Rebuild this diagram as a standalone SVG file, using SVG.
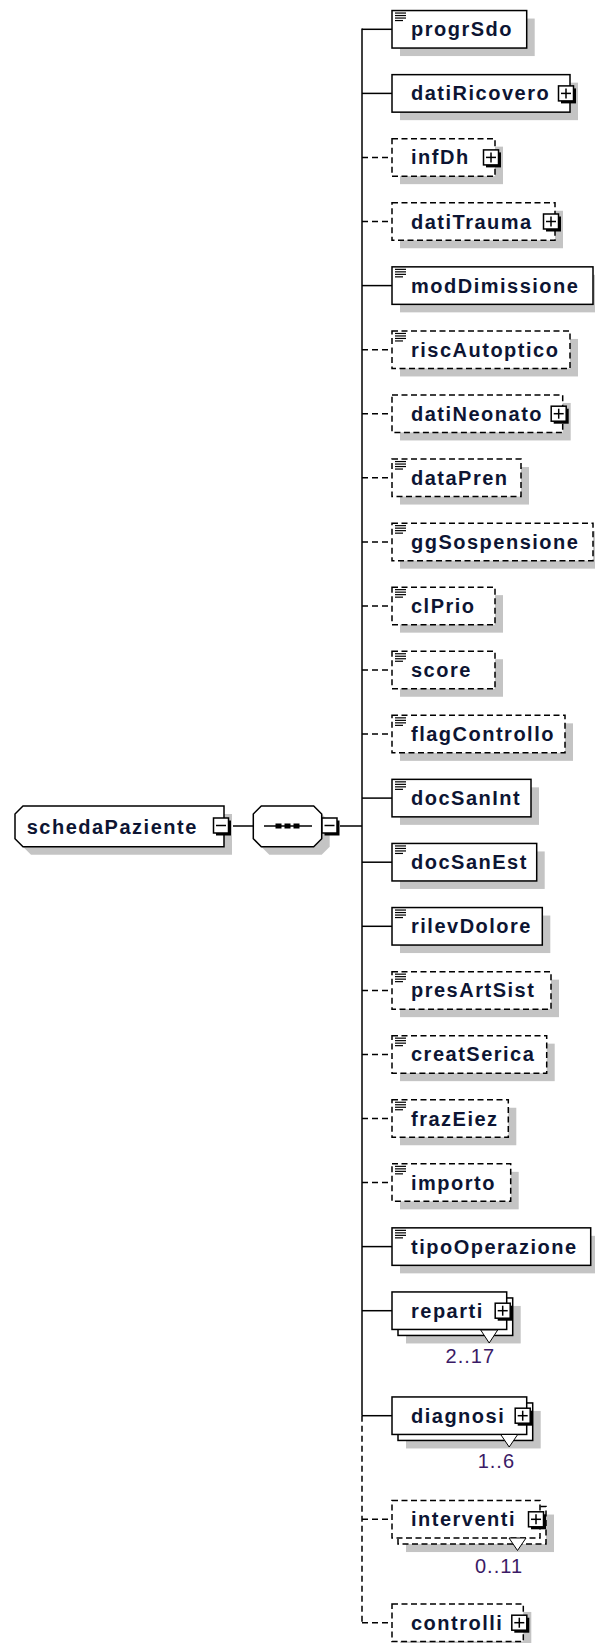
<svg xmlns="http://www.w3.org/2000/svg" xmlns:xlink="http://www.w3.org/1999/xlink" width="595" height="1643" viewBox="0 0 595 1643">
<style>
.box{fill:#fff;stroke:#000;stroke-width:1.5}
.opt{stroke-dasharray:6 3.5}
.sh{fill:#c4c4c4}
.nm{font-family:"Liberation Sans",Arial,sans-serif;font-weight:bold;font-size:20px;letter-spacing:1.5px;fill:#0d1533}
.mul{font-family:"Liberation Sans",Arial,sans-serif;font-size:20px;letter-spacing:1px;fill:#3b1a66}
.ln{stroke:#000;stroke-width:1.5;fill:none}
.dl{stroke-dasharray:6 4}
.ic{stroke:#000;stroke-width:1.2}
.tri{fill:#fff;stroke:#000;stroke-width:1}
</style>
<defs>
<g id="ico"><line class="ic" x1="3" y1="2.5" x2="14" y2="2.5"/><line class="ic" x1="3" y1="5" x2="14" y2="5"/><line class="ic" x1="3" y1="7.5" x2="14" y2="7.5"/><line class="ic" x1="3" y1="10" x2="11" y2="10"/></g>
<g id="plus"><rect x="-5" y="-5" width="15" height="15" fill="#000"/><rect x="-7.5" y="-7.5" width="15" height="15" fill="#fff" stroke="#000" stroke-width="1.5"/><line x1="-5" y1="0" x2="5" y2="0" stroke="#000" stroke-width="1.5"/><line x1="0" y1="-5" x2="0" y2="5" stroke="#000" stroke-width="1.5"/></g>
<g id="minus"><rect x="-5" y="-5" width="15" height="15" fill="#000"/><rect x="-7.5" y="-7.5" width="15" height="15" fill="#fff" stroke="#000" stroke-width="1.5"/><line x1="-5" y1="0" x2="5" y2="0" stroke="#000" stroke-width="1.5"/></g>
</defs>

<g id="connectors">
<line class="ln" x1="233" y1="826" x2="253" y2="826"/>
<line class="ln" x1="340" y1="826" x2="362" y2="826"/>
<line class="ln" x1="362" y1="28.6" x2="362" y2="1415.7" stroke-width="2.2"/>
<line class="ln dl" x1="362" y1="1415.7" x2="362" y2="1622.7" stroke-width="2"/>
<line class="ln" x1="362" y1="29.3" x2="392" y2="29.3"/>
<line class="ln" x1="362" y1="93.4" x2="392" y2="93.4"/>
<line class="ln dl" x1="362" y1="157.4" x2="392" y2="157.4"/>
<line class="ln dl" x1="362" y1="221.5" x2="392" y2="221.5"/>
<line class="ln" x1="362" y1="285.6" x2="392" y2="285.6"/>
<line class="ln dl" x1="362" y1="349.7" x2="392" y2="349.7"/>
<line class="ln dl" x1="362" y1="413.7" x2="392" y2="413.7"/>
<line class="ln dl" x1="362" y1="477.8" x2="392" y2="477.8"/>
<line class="ln dl" x1="362" y1="541.9" x2="392" y2="541.9"/>
<line class="ln dl" x1="362" y1="605.9" x2="392" y2="605.9"/>
<line class="ln dl" x1="362" y1="670" x2="392" y2="670"/>
<line class="ln dl" x1="362" y1="734.1" x2="392" y2="734.1"/>
<line class="ln" x1="362" y1="798.1" x2="392" y2="798.1"/>
<line class="ln" x1="362" y1="862.2" x2="392" y2="862.2"/>
<line class="ln" x1="362" y1="926.3" x2="392" y2="926.3"/>
<line class="ln dl" x1="362" y1="990.4" x2="392" y2="990.4"/>
<line class="ln dl" x1="362" y1="1054.4" x2="392" y2="1054.4"/>
<line class="ln dl" x1="362" y1="1118.5" x2="392" y2="1118.5"/>
<line class="ln dl" x1="362" y1="1182.6" x2="392" y2="1182.6"/>
<line class="ln" x1="362" y1="1246.6" x2="392" y2="1246.6"/>
<line class="ln" x1="362" y1="1310.7" x2="392" y2="1310.7"/>
<line class="ln" x1="362" y1="1415.7" x2="392" y2="1415.7"/>
<line class="ln dl" x1="362" y1="1519.3" x2="392" y2="1519.3"/>
<line class="ln dl" x1="362" y1="1622.7" x2="392" y2="1622.7"/>
</g>

<g id="schedaPaziente">
<polygon class="sh" points="31,814 232,814 232,854.7 31,854.7 23,846.7 23,822"/>
<polygon class="box" points="23,806 224,806 224,846.7 23,846.7 15,838.7 15,814"/>
<text class="nm" x="26.7" y="833.5">schedaPaziente</text>
<use xlink:href="#minus" x="221" y="825.5"/>
</g>

<g id="sequence">
<polygon class="sh" points="269.3,814 321.7,814 329.7,822 329.7,846.7 321.7,854.7 269.3,854.7 261.3,846.7 261.3,822"/>
<polygon class="box" points="261.3,806 313.7,806 321.7,814 321.7,838.7 313.7,846.7 261.3,846.7 253.3,838.7 253.3,814"/>
<line class="ln" x1="264" y1="826" x2="312" y2="826"/>
<rect x="275.5" y="823.5" width="6" height="5" fill="#000"/>
<rect x="284.5" y="823.5" width="6" height="5" fill="#000"/>
<rect x="293.5" y="823.5" width="6" height="5" fill="#000"/>
<use xlink:href="#minus" x="329.5" y="825.5"/>
</g>

<g id="progrSdo">
<rect class="sh" x="400" y="18.55" width="134.7" height="37.5"/>
<rect class="box" x="392" y="10.55" width="134.7" height="37.5"/>
<use xlink:href="#ico" x="392" y="10.55"/>
<text class="nm" x="411" y="36.3">progrSdo</text>
</g>

<g id="datiRicovero">
<rect class="sh" x="400" y="82.65" width="178" height="37.5"/>
<rect class="box" x="392" y="74.65" width="178" height="37.5"/>
<text class="nm" x="411" y="100.4">datiRicovero</text>
<use xlink:href="#plus" x="566" y="93.4"/>
</g>

<g id="infDh">
<rect class="sh" x="400" y="146.65" width="103" height="37.5"/>
<rect class="box opt" x="392" y="138.65" width="103" height="37.5"/>
<text class="nm" x="411" y="164.4">infDh</text>
<use xlink:href="#plus" x="491" y="157.4"/>
</g>

<g id="datiTrauma">
<rect class="sh" x="400" y="210.75" width="163" height="37.5"/>
<rect class="box opt" x="392" y="202.75" width="163" height="37.5"/>
<text class="nm" x="411" y="228.5">datiTrauma</text>
<use xlink:href="#plus" x="551" y="221.5"/>
</g>

<g id="modDimissione">
<rect class="sh" x="400" y="274.85" width="201" height="37.5"/>
<rect class="box" x="392" y="266.85" width="201" height="37.5"/>
<use xlink:href="#ico" x="392" y="266.85"/>
<text class="nm" x="411" y="292.6">modDimissione</text>
</g>

<g id="riscAutoptico">
<rect class="sh" x="400" y="338.95" width="178" height="37.5"/>
<rect class="box opt" x="392" y="330.95" width="178" height="37.5"/>
<use xlink:href="#ico" x="392" y="330.95"/>
<text class="nm" x="411" y="356.7">riscAutoptico</text>
</g>

<g id="datiNeonato">
<rect class="sh" x="400" y="402.95" width="170.7" height="37.5"/>
<rect class="box opt" x="392" y="394.95" width="170.7" height="37.5"/>
<text class="nm" x="411" y="420.7">datiNeonato</text>
<use xlink:href="#plus" x="558.7" y="413.7"/>
</g>

<g id="dataPren">
<rect class="sh" x="400" y="467.05" width="129" height="37.5"/>
<rect class="box opt" x="392" y="459.05" width="129" height="37.5"/>
<use xlink:href="#ico" x="392" y="459.05"/>
<text class="nm" x="411" y="484.8">dataPren</text>
</g>

<g id="ggSospensione">
<rect class="sh" x="400" y="531.15" width="201" height="37.5"/>
<rect class="box opt" x="392" y="523.15" width="201" height="37.5"/>
<use xlink:href="#ico" x="392" y="523.15"/>
<text class="nm" x="411" y="548.9">ggSospensione</text>
</g>

<g id="clPrio">
<rect class="sh" x="400" y="595.15" width="103" height="37.5"/>
<rect class="box opt" x="392" y="587.15" width="103" height="37.5"/>
<use xlink:href="#ico" x="392" y="587.15"/>
<text class="nm" x="411" y="612.9">clPrio</text>
</g>

<g id="score">
<rect class="sh" x="400" y="659.25" width="103" height="37.5"/>
<rect class="box opt" x="392" y="651.25" width="103" height="37.5"/>
<use xlink:href="#ico" x="392" y="651.25"/>
<text class="nm" x="411" y="677">score</text>
</g>

<g id="flagControllo">
<rect class="sh" x="400" y="723.35" width="173" height="37.5"/>
<rect class="box opt" x="392" y="715.35" width="173" height="37.5"/>
<use xlink:href="#ico" x="392" y="715.35"/>
<text class="nm" x="411" y="741.1">flagControllo</text>
</g>

<g id="docSanInt">
<rect class="sh" x="400" y="787.35" width="139" height="37.5"/>
<rect class="box" x="392" y="779.35" width="139" height="37.5"/>
<use xlink:href="#ico" x="392" y="779.35"/>
<text class="nm" x="411" y="805.1">docSanInt</text>
</g>

<g id="docSanEst">
<rect class="sh" x="400" y="851.45" width="144.7" height="37.5"/>
<rect class="box" x="392" y="843.45" width="144.7" height="37.5"/>
<use xlink:href="#ico" x="392" y="843.45"/>
<text class="nm" x="411" y="869.2">docSanEst</text>
</g>

<g id="rilevDolore">
<rect class="sh" x="400" y="915.55" width="150.3" height="37.5"/>
<rect class="box" x="392" y="907.55" width="150.3" height="37.5"/>
<use xlink:href="#ico" x="392" y="907.55"/>
<text class="nm" x="411" y="933.3">rilevDolore</text>
</g>

<g id="presArtSist">
<rect class="sh" x="400" y="979.65" width="159" height="37.5"/>
<rect class="box opt" x="392" y="971.65" width="159" height="37.5"/>
<use xlink:href="#ico" x="392" y="971.65"/>
<text class="nm" x="411" y="997.4">presArtSist</text>
</g>

<g id="creatSerica">
<rect class="sh" x="400" y="1043.65" width="154.7" height="37.5"/>
<rect class="box opt" x="392" y="1035.65" width="154.7" height="37.5"/>
<use xlink:href="#ico" x="392" y="1035.65"/>
<text class="nm" x="411" y="1061.4">creatSerica</text>
</g>

<g id="frazEiez">
<rect class="sh" x="400" y="1107.75" width="116.3" height="37.5"/>
<rect class="box opt" x="392" y="1099.75" width="116.3" height="37.5"/>
<use xlink:href="#ico" x="392" y="1099.75"/>
<text class="nm" x="411" y="1125.5">frazEiez</text>
</g>

<g id="importo">
<rect class="sh" x="400" y="1171.85" width="118.7" height="37.5"/>
<rect class="box opt" x="392" y="1163.85" width="118.7" height="37.5"/>
<use xlink:href="#ico" x="392" y="1163.85"/>
<text class="nm" x="411" y="1189.6">importo</text>
</g>

<g id="tipoOperazione">
<rect class="sh" x="400" y="1235.85" width="198.7" height="37.5"/>
<rect class="box" x="392" y="1227.85" width="198.7" height="37.5"/>
<use xlink:href="#ico" x="392" y="1227.85"/>
<text class="nm" x="411" y="1253.6">tipoOperazione</text>
</g>

<g id="reparti">
<rect class="sh" x="406" y="1305.95" width="114.7" height="37.5"/>
<rect class="box" x="398" y="1297.95" width="114.7" height="37.5"/>
<rect class="box" x="392" y="1291.95" width="114.7" height="37.5"/>
<polygon class="tri" points="480.7,1330 489.2,1343 497.7,1330"/>
<text class="nm" x="411" y="1317.7">reparti</text>
<use xlink:href="#plus" x="502.7" y="1310.7"/>
<text class="mul" x="495" y="1363.3" text-anchor="end">2..17</text>
</g>

<g id="diagnosi">
<rect class="sh" x="406" y="1410.95" width="134.7" height="37.5"/>
<rect class="box" x="398" y="1402.95" width="134.7" height="37.5"/>
<rect class="box" x="392" y="1396.95" width="134.7" height="37.5"/>
<polygon class="tri" points="500.7,1434.5 509.2,1447 517.7,1434.5"/>
<text class="nm" x="411" y="1422.7">diagnosi</text>
<use xlink:href="#plus" x="522.7" y="1415.7"/>
<text class="mul" x="515" y="1468.3" text-anchor="end">1..6</text>
</g>

<g id="interventi">
<rect class="sh" x="406" y="1514.55" width="148" height="37.5"/>
<rect class="box opt" x="398" y="1506.55" width="148" height="37.5"/>
<rect class="box opt" x="392" y="1500.55" width="148" height="37.5"/>
<polygon class="tri" points="509,1538 517.5,1550.5 526,1538"/>
<text class="nm" x="411" y="1526.3">interventi</text>
<use xlink:href="#plus" x="536" y="1519.3"/>
<text class="mul" x="523" y="1572.7" text-anchor="end">0..11</text>
</g>

<g id="controlli">
<rect class="sh" x="400" y="1611.95" width="131.3" height="37.5"/>
<rect class="box opt" x="392" y="1603.95" width="131.3" height="37.5"/>
<text class="nm" x="411" y="1629.7">controlli</text>
<use xlink:href="#plus" x="519.3" y="1622.7"/>
</g>
</svg>
